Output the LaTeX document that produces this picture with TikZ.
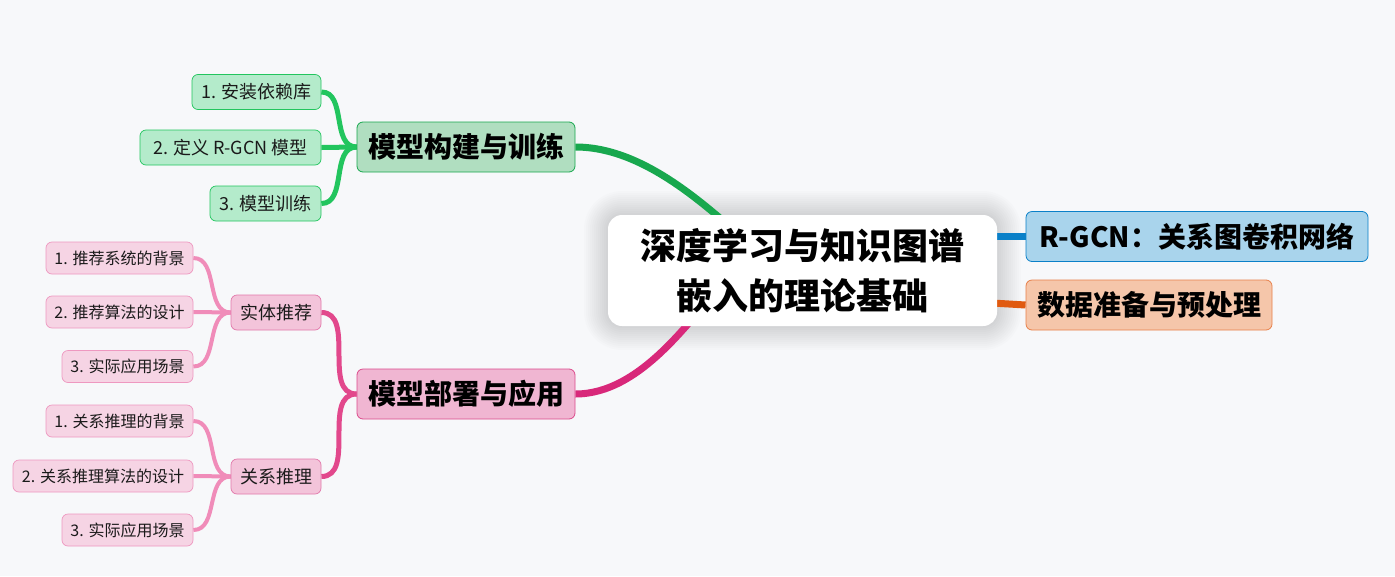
\documentclass[tikz,border=0pt]{standalone}
\usepackage{fontspec}
\setmainfont{Noto Sans CJK SC}
\usetikzlibrary{arrows.meta,positioning,calc}
\definecolor{mmbg}{RGB}{247,248,250}
\definecolor{mmgreen}{RGB}{24,168,78}
\definecolor{mmgreenfill}{RGB}{176,222,192}
\definecolor{mmgreenline}{RGB}{34,197,94}
\definecolor{mmgreenkid}{RGB}{180,235,203}
\definecolor{mmpink}{RGB}{216,40,122}
\definecolor{mmpinkfill}{RGB}{240,182,210}
\definecolor{mmpinkdraw}{RGB}{220,75,140}
\definecolor{mmpinkline}{RGB}{226,72,140}
\definecolor{mmpinkkid}{RGB}{243,196,218}
\definecolor{mmpinkkiddraw}{RGB}{226,120,170}
\definecolor{mmrose}{RGB}{240,140,185}
\definecolor{mmrosefill}{RGB}{246,212,228}
\definecolor{mmrosedraw}{RGB}{238,152,192}
\definecolor{mmblue}{RGB}{10,128,200}
\definecolor{mmbluefill}{RGB}{169,212,236}
\definecolor{mmorange}{RGB}{224,90,16}
\definecolor{mmorangefill}{RGB}{245,198,170}
\definecolor{mmorangedraw}{RGB}{232,128,74}
\definecolor{mmtext}{RGB}{26,26,26}
\pgfdeclarelayer{bg}
\pgfdeclarelayer{edges}
\pgfsetlayers{bg,edges,main}

\begin{document}
\begin{tikzpicture}[x=1pt,y=-1pt,
  topic/.style={draw,rounded corners=6pt,line width=0.8pt,inner sep=0pt,minimum height=50pt,font=\fontsize{28}{32}\selectfont\bfseries},
  kid/.style={draw,rounded corners=6pt,line width=0.7pt,inner sep=0pt,minimum height=35pt,text=mmtext,font=\fontsize{18}{21}\selectfont},
  leaf/.style={draw=mmrosedraw,fill=mmrosefill,rounded corners=6pt,line width=0.7pt,inner sep=0pt,minimum height=32pt,text=mmtext,font=\fontsize{16}{19}\selectfont},
  greenkid/.style={kid,draw=mmgreenline,fill=mmgreenkid},
  pinkkid/.style={kid,draw=mmpinkkiddraw,fill=mmpinkkid},
  mainline/.style={line width=7pt},
  kidline/.style={line width=5pt},
  leafline/.style={line width=4pt,mmrose}]
  \begin{pgfonlayer}{bg}
    \fill[mmbg] (0,0) rectangle (1395,576);
    % soft glow round the centre
    \foreach \g in {2,4,...,24}
      \fill[black,opacity=0.012,rounded corners=14pt+\g pt]
        (608-\g,215-\g) rectangle (997+\g,326+\g);
  \end{pgfonlayer}
  \useasboundingbox (0,0) rectangle (1395,576);
  % centre
  \node[fill=white,rounded corners=14pt,minimum width=389pt,minimum height=111pt,inner sep=0pt,align=center,
    font=\fontsize{36}{50}\selectfont\bfseries]
    (root) at (802.5,270.5) {深度学习与知识图谱\\嵌入的理论基础};
  % right side
  \node[topic,draw=mmblue,fill=mmbluefill,minimum width=342pt] (rgcn) at (1197,236.5) {R-GCN：关系图卷积网络};
  \node[topic,draw=mmorangedraw,fill=mmorangefill,minimum width=246pt] (data) at (1149,305) {数据准备与预处理};
  % left side
  \node[topic,draw=mmgreen,fill=mmgreenfill,minimum width=218pt] (train) at (466,147) {模型构建与训练};
  \node[topic,draw=mmpinkdraw,fill=mmpinkfill,minimum width=218pt] (deploy) at (466,394) {模型部署与应用};
  \node[greenkid,minimum width=129pt] (t1) at (256.5,92) {1. 安装依赖库};
  \node[greenkid,minimum width=181pt] (t2) at (230.5,147.5) {2. 定义 R-GCN 模型};
  \node[greenkid,minimum width=111pt] (t3) at (265.5,203.5) {3. 模型训练};
  \node[pinkkid,minimum width=90pt] (rec) at (276,312.5) {实体推荐};
  \node[pinkkid,minimum width=90pt] (rel) at (276,476.5) {关系推理};
  \node[leaf,minimum width=147pt] (r1) at (119.5,258) {1. 推荐系统的背景};
  \node[leaf,minimum width=147pt] (r2) at (119.5,312) {2. 推荐算法的设计};
  \node[leaf,minimum width=131pt] (r3) at (127.5,366.5) {3. 实际应用场景};
  \node[leaf,minimum width=147pt] (q1) at (119.5,421) {1. 关系推理的背景};
  \node[leaf,minimum width=180pt] (q2) at (103,476) {2. 关系推理算法的设计};
  \node[leaf,minimum width=131pt] (q3) at (127.5,530) {3. 实际应用场景};
  \coordinate (gin) at (745,240);
  \coordinate (pin) at (725,280);
  \coordinate (bin) at (975,236.5);
  \coordinate (oin) at (975,302);
  \begin{pgfonlayer}{edges}
    \draw[mainline,mmgreen] (train.east) .. controls +(65,0) and +(-45,-40) .. (gin);
    \draw[mainline,mmpink] (deploy.east) .. controls +(65,0) and +(-35,40) .. (pin);
    \draw[mainline,mmblue] (bin) -- (rgcn.west);
    \draw[mainline,mmorange] (oin) -- (data.west);
    \draw[kidline,mmgreenline] (t1.east) to[out=0,in=180] (train.west);
    \draw[kidline,mmgreenline] (t2.east) to[out=0,in=180] (train.west);
    \draw[kidline,mmgreenline] (t3.east) to[out=0,in=180] (train.west);
    \draw[kidline,mmpinkline] (rec.east) to[out=0,in=180] (deploy.west);
    \draw[kidline,mmpinkline] (rel.east) to[out=0,in=180] (deploy.west);
    \draw[leafline] (r1.east) to[out=0,in=180] (rec.west);
    \draw[leafline] (r2.east) to[out=0,in=180] (rec.west);
    \draw[leafline] (r3.east) to[out=0,in=180] (rec.west);
    \draw[leafline] (q1.east) to[out=0,in=180] (rel.west);
    \draw[leafline] (q2.east) to[out=0,in=180] (rel.west);
    \draw[leafline] (q3.east) to[out=0,in=180] (rel.west);
  \end{pgfonlayer}
\end{tikzpicture}
\end{document}
